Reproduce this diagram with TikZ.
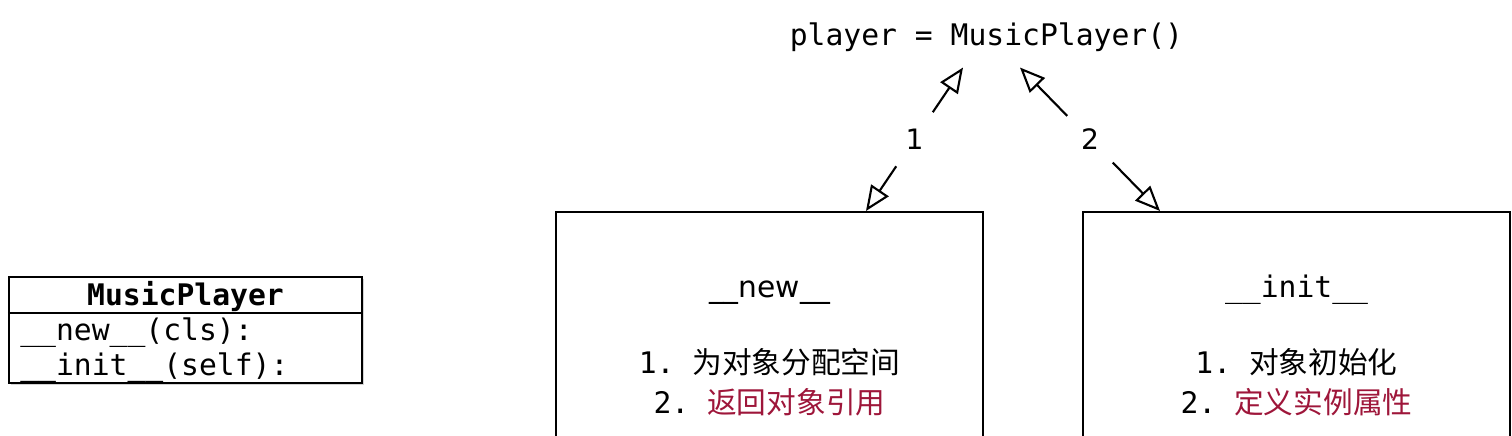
\documentclass[tikz,border=0pt]{standalone}
\usepackage{fontspec}
\setmonofont{DejaVu Sans Mono}
\newfontfamily\cjk{Noto Sans CJK SC}
\newfontfamily\plainsans{DejaVu Sans}
\usetikzlibrary{arrows.meta, shadows}
\definecolor{stepred}{RGB}{158,22,58}

\begin{document}
\begin{tikzpicture}[
          x=0.02cm, y=-0.02cm,
          code/.style={font=\ttfamily\fontsize{16.9}{20}\selectfont, inner sep=0pt, anchor=base},
          method/.style={draw, line width=1.3pt, minimum width=8.54cm, minimum height=4.8cm, anchor=north, inner sep=0pt},
          link/.style={{Triangle[open, length=0.5cm, width=0.42cm]}-{Triangle[open, length=0.5cm, width=0.42cm]}, line width=1.2pt},
          num/.style={circle, fill=white, minimum size=1.3cm, inner sep=0pt, font=\plainsans\fontsize{16}{18}\selectfont}
        ]
          \useasboundingbox (0,0) rectangle (1512,436);

          % Class box
          \node[draw, fill=white, line width=1.3pt, minimum width=7.06cm, minimum height=2.12cm,
                drop shadow={shadow xshift=0.04cm, shadow yshift=-0.04cm, opacity=0.35}] (cls) at (185.5,330) {};
          \draw[line width=1.3pt] (cls.west |- 0,313) -- (cls.east |- 0,313);
          \node[code, font=\ttfamily\bfseries\fontsize{16.9}{20}\selectfont] (clsname) at (185.5,305) {MusicPlayer};
          \node[code, anchor=base west] (clsnew) at (20,340) {\_\_new\_\_(cls):};
          \node[code, anchor=base west] (clsinit) at (20,375) {\_\_init\_\_(self):};

          % Instance
          \node[code] (player) at (986.5,45) {player = MusicPlayer()};

          % Methods
          \node[method] (newbox) at (769.5,211) {};
          \node[method] (initbox) at (1296.5,211) {};

          \node[code, font=\plainsans\fontsize{16.9}{20}\selectfont] (newtitle) at (769.5,297) {\_\_new\_\_};
          \node[code] (newstep1) at (769.5,373) {1. {\cjk 为对象分配空间}};
          \node[code] (newstep2) at (769.5,413) {2. {\cjk\color{stepred}返回对象引用}};

          \node[code] (inittitle) at (1296.5,297) {\_\_init\_\_};
          \node[code] (initstep1) at (1296.5,373) {1. {\cjk 对象初始化}};
          \node[code] (initstep2) at (1296.5,413) {2. {\cjk\color{stepred}定义实例属性}};

          % Arrows
          \draw[link] ([xshift=1.93cm]newbox.north) -- node[num] (one) {1} ([xshift=-0.47cm, yshift=-0.32cm]player.south);
          \draw[link] ([xshift=0.67cm, yshift=-0.32cm]player.south) -- node[num] (two) {2} ([xshift=-2.73cm]initbox.north);
        \end{tikzpicture}
\end{document}
